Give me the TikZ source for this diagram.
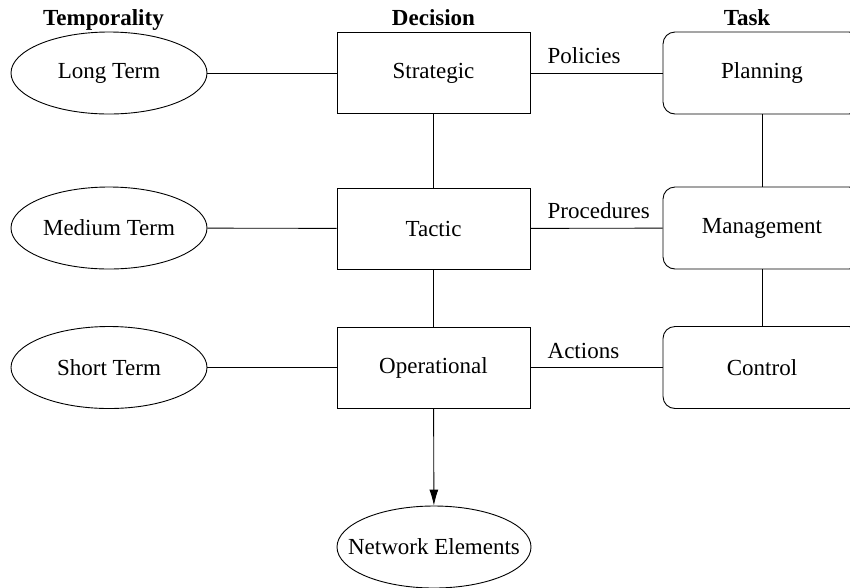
\documentclass[tikz,border=0pt]{standalone}
\usepackage{fontspec}
\setmainfont{Liberation Serif}
\usetikzlibrary{shapes.geometric,arrows.meta}
\begin{document}
\begin{tikzpicture}[x=1pt,y=1pt,
  every node/.style={font=\fontsize{23}{27}\selectfont},
  ell/.style={draw,ellipse,line width=0.9pt,minimum width=196pt,minimum height=82pt,inner sep=0pt},
  decbox/.style={draw,rectangle,line width=0.9pt,minimum width=193pt,minimum height=81pt,inner sep=0pt},
  taskbox/.style={draw,rectangle,rounded corners=12pt,line width=0.9pt,minimum width=198pt,minimum height=82pt,inner sep=0pt},
  hdr/.style={font=\fontsize{23}{27}\selectfont\bfseries,anchor=base,inner sep=0pt},
  lbl/.style={anchor=base west,inner sep=0pt},
  conn/.style={line width=0.9pt}]
\useasboundingbox (0,0) rectangle (850,-587);
% headers
\node[hdr] (h1) at (103.5,-25) {Temporality};
\node[hdr] (h2) at (433.5,-25) {Decision};
\node[hdr] (h3) at (747,-25) {Task};
% temporality
\node[ell] (long) at (109,-73) {Long Term};
\node[ell] (med) at (109,-228) {Medium Term};
\node[ell] (short) at (109,-367.5) {Short Term};
% decision
\node[decbox] (strat) at (433.5,-73) {Strategic};
\node[decbox] (tact) at (433.5,-228.5) {Tactic};
\node[decbox] (oper) at (433.5,-367.5) {Operational};
% task
\node[taskbox] (plan) at (762,-73) {Planning};
\node[taskbox] (mgmt) at (762,-228) {Management};
\node[taskbox] (ctrl) at (762,-367.5) {Control};
% network elements
\node[ell,minimum width=194pt,inner xsep=-18pt] (net) at (434,-547) {Network Elements};
% horizontal connectors
\draw[conn] (long) -- (strat);
\draw[conn] (med) -- (tact);
\draw[conn] (short) -- (oper);
\draw[conn] (strat) -- (plan);
\draw[conn] (tact) -- (mgmt);
\draw[conn] (oper) -- (ctrl);
% labels
\path (strat.east) ++(17,10) node[lbl] (lp) {Policies};
\path (tact.east) ++(17,10) node[lbl] (lpr) {Procedures};
\path (oper.east) ++(17,9.5) node[lbl] (la) {Actions};
% vertical connectors
\draw[conn] (strat) -- (tact);
\draw[conn] (tact) -- (oper);
\draw[conn] (plan) -- (mgmt);
\draw[conn] (mgmt) -- (ctrl);
\draw[conn,-{Latex[length=16pt,width=9pt]}] (oper) -- (net);
\end{tikzpicture}
\end{document}
